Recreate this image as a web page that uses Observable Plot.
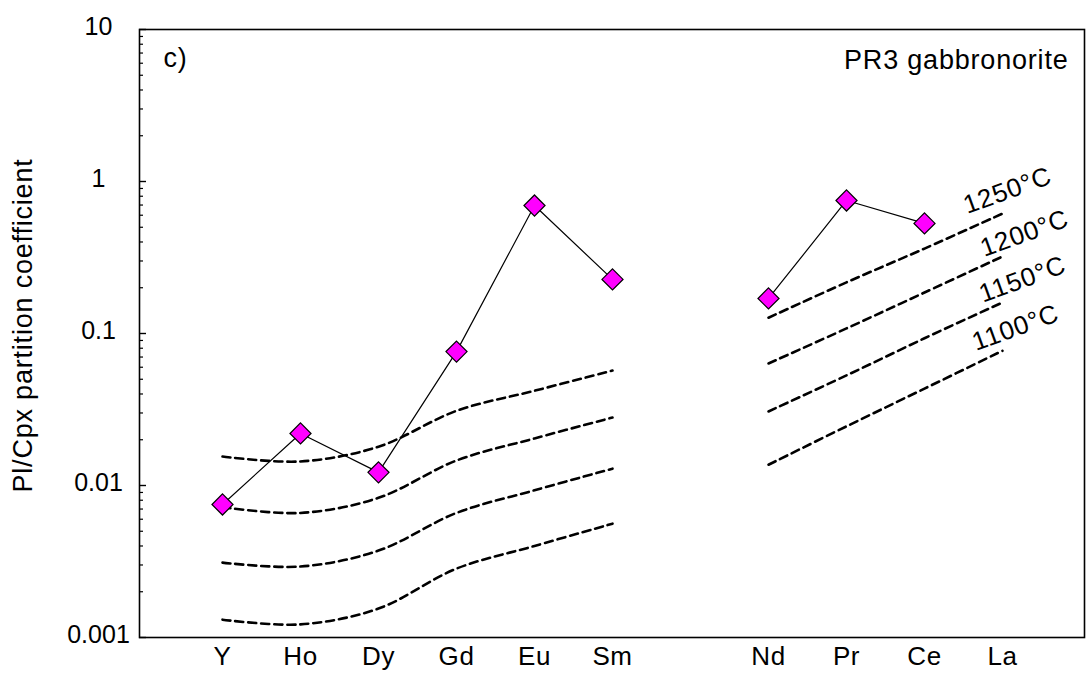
<!DOCTYPE html>
<html>
<head>
<meta charset="utf-8">
<script src="https://cdn.jsdelivr.net/npm/d3@7"></script>
<script src="https://cdn.jsdelivr.net/npm/@observablehq/plot@0.6"></script>
<style>
  html, body { margin: 0; padding: 0; background: #fff; }
  svg { display: block; }
  g[aria-label="text"] text { letter-spacing: 0.8px; }
  g[aria-label="x-axis tick label"] text { letter-spacing: 0.6px; }
</style>
</head>
<body>
<div id="chart"></div>
<script>
// Categories (REE + Y); the blank entry is the gap between Sm and Nd
const elements = ["Y", "Ho", "Dy", "Gd", "Eu", "Sm", "Nd", "Pr", "Ce", "La"];
const xDomain = ["Y", "Ho", "Dy", "Gd", "Eu", "Sm", " ", "Nd", "Pr", "Ce", "La"];
const groups = ["heavy", "heavy", "heavy", "heavy", "heavy", "heavy", "light", "light", "light", "light"];

// PR3 gabbronorite measured Pl/Cpx partition coefficients (La not measured)
const sampleValues = [0.0075, 0.022, 0.0122, 0.076, 0.695, 0.227, 0.17, 0.75, 0.53, null];

// Model curves at given temperatures
const temps = ["1250°C", "1200°C", "1150°C", "1100°C"];
const t1250 = [0.0155, 0.0144, 0.018, 0.031, 0.042, 0.057, 0.127, 0.217, 0.362, 0.615];
const t1200 = [0.0072, 0.0066, 0.0083, 0.0146, 0.0204, 0.028, 0.0635, 0.108, 0.186, 0.321];
const t1150 = [0.00311, 0.00293, 0.00373, 0.0066, 0.0093, 0.0129, 0.0307, 0.053, 0.093, 0.16];
const t1100 = [0.00131, 0.00122, 0.00155, 0.00284, 0.0040, 0.00561, 0.0137, 0.0245, 0.0434, 0.077];
const tempSeries = [t1250, t1200, t1150, t1100];

// Y-axis ticks
const majorTicks = [0.001, 0.01, 0.1, 1, 10];
const majorLabels = ["0.001", "0.01", "0.1", "1", "10"];
const minorTicks = [];
for (const d of [0.001, 0.01, 0.1, 1]) for (let k = 2; k <= 9; k++) minorTicks.push(+(d * k).toPrecision(3));

// Build tables
const sample = elements.map((e, i) => ({element: e, group: groups[i], value: sampleValues[i]}))
  .filter(d => d.value != null);
const curves = [];
temps.forEach((t, j) => elements.forEach((e, i) =>
  curves.push({temp: t, element: e, group: groups[i], key: t + groups[i], value: tempSeries[j][i]})));
const labelRows = temps.map((t, j) => ({temp: t, element: "La", value: tempSeries[j][elements.length - 1]}));
const labelDx = {"1250°C": 5, "1200°C": 22, "1150°C": 20, "1100°C": 13};

const font = "Liberation Sans, Arial, Helvetica, sans-serif";

const chart = Plot.plot({
  width: 1086,
  height: 698,
  marginLeft: 139,
  marginRight: 2,
  marginTop: 29,
  marginBottom: 61,
  style: {fontFamily: font, fontSize: "25px", color: "#000", background: "#fff"},
  x: {type: "point", domain: xDomain, padding: 1},
  y: {type: "log", domain: [0.001, 10]},
  marks: [
    // model curves
    Plot.line(curves, {x: "element", y: "value", z: "key", curve: "catmull-rom",
      stroke: "#000", strokeWidth: 2.6, strokeDasharray: "8,5"}),
    // temperature labels
    ...labelRows.map(r => Plot.text([r], {x: "element", y: "value", text: "temp",
      rotate: -20, dx: labelDx[r.temp], dy: -23, fontSize: 26, fill: "#000"})),
    // sample line + markers
    Plot.line(sample, {x: "element", y: "value", z: "group", stroke: "#000", strokeWidth: 1.2}),
    Plot.dot(sample, {x: "element", y: "value", symbol: "diamond2", r: 9.5,
      fill: "#ff00ff", stroke: "#000", strokeWidth: 1.2}),
    // frame
    Plot.frame({stroke: "#000", strokeWidth: 1.6}),
    // y axis: labels (centred, Excel style), major and minor inward ticks
    Plot.axisY({ticks: majorTicks, tickSize: 0, tickPadding: 41, textAnchor: "middle", dy: -3,
      tickFormat: d => majorLabels[majorTicks.indexOf(d)], label: null, fontSize: 25}),
    Plot.axisY({ticks: majorTicks, tickSize: -7, tickFormat: () => "", label: null, strokeWidth: 1.4}),
    Plot.axisY({ticks: minorTicks, tickSize: -4, tickFormat: () => "", label: null, strokeWidth: 1.2}),
    // x axis labels
    Plot.axisX({ticks: elements, tickSize: 0, tickPadding: 9, label: null, fontSize: 26}),
    // panel annotations
    Plot.text(["c)"], {frameAnchor: "top-left", dx: 24, dy: 18, textAnchor: "start", lineAnchor: "top", fontSize: 27}),
    Plot.text(["PR3 gabbronorite"], {frameAnchor: "top-right", dx: -16, dy: 20, textAnchor: "end", lineAnchor: "top", fontSize: 27}),
    // y axis title
    Plot.text(["Pl/Cpx partition coefficient"], {frameAnchor: "left", dx: -116, dy: -8, rotate: -90,
      textAnchor: "middle", fontSize: 27})
  ]
});
document.getElementById("chart").appendChild(chart);
</script>
</body>
</html>
